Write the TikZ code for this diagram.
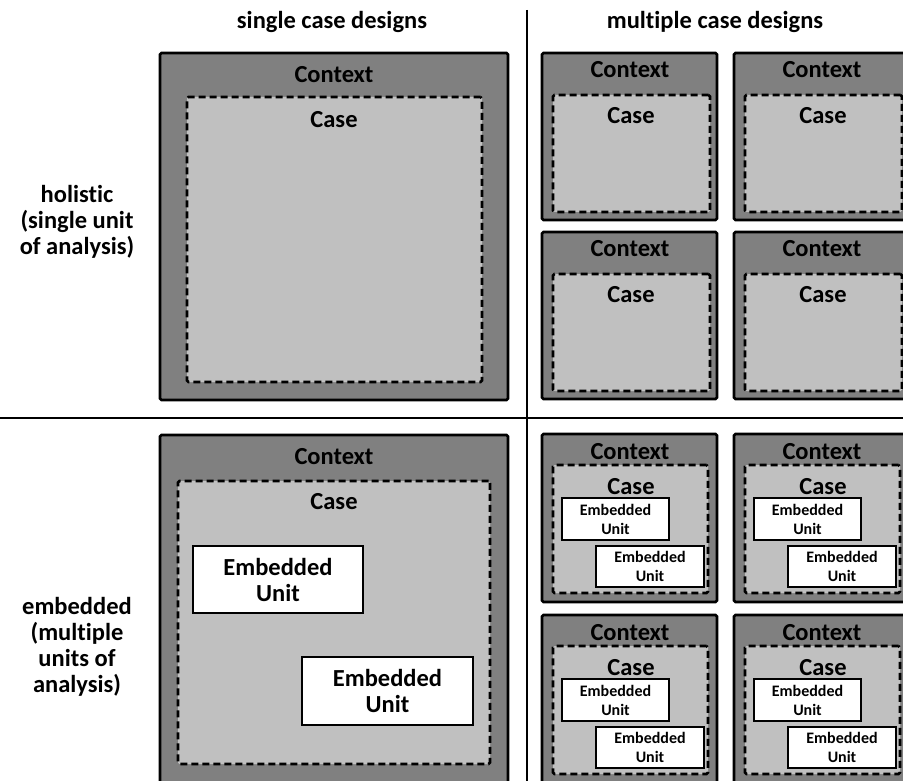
\documentclass[tikz,border=0pt]{standalone}
\usepackage{fontspec}
\setmainfont{Carlito}[Ligatures=NoCommon]
\definecolor{ctxgray}{HTML}{808080}
\definecolor{casegray}{HTML}{C0C0C0}
\tikzset{
  ctxbox/.style={draw=black, line width=2.8pt, fill=ctxgray, rounded corners=1.5pt,
    anchor=north west, inner sep=0pt, outer sep=0pt},
  casebox/.style={draw=black, line width=2.7pt, fill=casegray, rounded corners=1.5pt,
    dash pattern=on 7pt off 4pt, anchor=north west, inner sep=0pt, outer sep=0pt},
  embbox/.style={draw=black, line width=2.8pt, fill=white,
    anchor=north west, inner sep=0pt, outer sep=0pt},
  bigtxt/.style={font=\bfseries\fontsize{24.5}{26}\selectfont, inner sep=0pt},
  embtxt/.style={font=\bfseries\fontsize{24.5}{26}\selectfont, align=center, inner sep=0pt},
  smalltxt/.style={font=\bfseries\fontsize{16}{19}\selectfont, align=center, inner sep=0pt},
  divider/.style={draw=black, line width=1.5pt},
}
\begin{document}
\begin{tikzpicture}[x=1pt,y=-1pt]
\useasboundingbox (0,0) rectangle (903,781);

% column and row dividers
\coordinate (vtop) at (527,10);
\coordinate (vbot) at (527,781);
\coordinate (hl) at (0,418);
\coordinate (hr) at (903,418);
\draw[divider] (vtop) -- (vbot);
\draw[divider] (hl) -- (hr);

% headers
\node[bigtxt] (hsingle) at (332,22) {single case designs};
\node[bigtxt] (hmulti) at (715,22) {multiple case designs};
\node[embtxt] (lholistic) at (77,222) {holistic\\(single unit\\of analysis)};
\node[embtxt] (lembedded) at (77,647) {embedded\\(multiple\\units of\\analysis)};

% single holistic case
\node[ctxbox, minimum width=348pt, minimum height=347pt] (sh-ctx) at (160,53) {};
\node[casebox, minimum width=295pt, minimum height=285pt] (sh-case) at (187,97) {};
\node[bigtxt] (sh-ctxlbl) at (334,75) {Context};
\node[bigtxt] (sh-caselbl) at (334,120) {Case};

% multiple holistic cases
\foreach \c/\dx in {1/0,2/192}{
  \foreach \r/\dy in {1/0,2/179}{
    \node[ctxbox, minimum width=175pt, minimum height=167pt] (mh-ctx-\c-\r) at (542+\dx,53+\dy) {};
    \node[casebox, minimum width=157pt, minimum height=117pt] (mh-case-\c-\r) at (553+\dx,95+\dy) {};
    \node[bigtxt] (mh-ctxlbl-\c-\r) at (630+\dx,70+\dy) {Context};
    \node[bigtxt] (mh-caselbl-\c-\r) at (631+\dx,116+\dy) {Case};
  }
}

% single embedded case
\node[ctxbox, minimum width=348pt, minimum height=360pt] (se-ctx) at (160,435) {};
\node[casebox, minimum width=312pt, minimum height=283pt] (se-case) at (178,481) {};
\node[bigtxt] (se-ctxlbl) at (334,457) {Context};
\node[bigtxt] (se-caselbl) at (334,502) {Case};
\node[embbox, minimum width=170pt, minimum height=67pt] (se-u1) at (193,546) {};
\node[embtxt] at (se-u1.center) {Embedded\\Unit};
\node[embbox, minimum width=171pt, minimum height=68pt] (se-u2) at (302,657) {};
\node[embtxt] at (se-u2.center) {Embedded\\Unit};

% multiple embedded cases
\foreach \c/\dx in {1/0,2/192}{
  \foreach \r/\dy in {1/0,2/181}{
    \node[ctxbox, minimum width=175pt, minimum height=168pt] (me-ctx-\c-\r) at (542+\dx,434+\dy) {};
    \node[casebox, minimum width=155pt, minimum height=128pt] (me-case-\c-\r) at (553+\dx,465+\dy) {};
    \node[bigtxt] (me-ctxlbl-\c-\r) at (630+\dx,452+\dy) {Context};
    \node[bigtxt] (me-caselbl-\c-\r) at (631+\dx,487+\dy) {Case};
    \node[embbox, minimum width=107pt, minimum height=42pt] (me-u1-\c-\r) at (562+\dx,498+\dy) {};
    \node[smalltxt] at (me-u1-\c-\r.center) {Embedded\\Unit};
    \node[embbox, minimum width=108pt, minimum height=41pt] (me-u2-\c-\r) at (596+\dx,546+\dy) {};
    \node[smalltxt] at (me-u2-\c-\r.center) {Embedded\\Unit};
  }
}
\end{tikzpicture}
\end{document}
